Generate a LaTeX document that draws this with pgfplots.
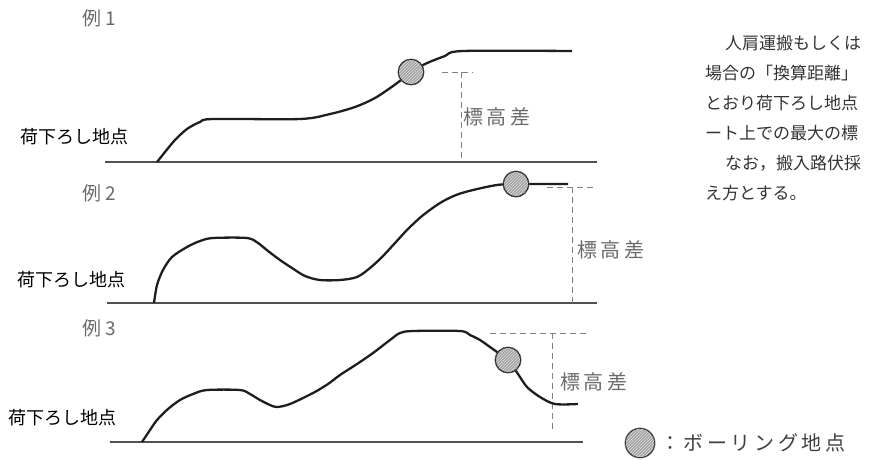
\documentclass[border=0pt]{standalone}
\usepackage{pgfplots}
\pgfplotsset{compat=1.18}
\usepackage{fontspec}
\setmainfont{Noto Sans CJK JP}
\newfontfamily\jp{Noto Sans CJK JP}
\newfontfamily\jpwide[LetterSpace=18]{Noto Sans CJK JP}
\usetikzlibrary{patterns}
\definecolor{txtgray}{HTML}{6A6A6A}
\definecolor{basegray}{HTML}{505050}
\definecolor{curve}{HTML}{1E1E1E}
\begin{document}
\begin{tikzpicture}
\begin{axis}[
  hide axis, scale only axis,
  width=874pt, height=459pt,
  xmin=0, xmax=874, ymin=0, ymax=459, y dir=reverse,
  clip=false,
]
\path (axis cs:0,0) rectangle (axis cs:874,459);
% baselines
\addplot[basegray, line width=1.6pt] coordinates {(105,162) (597,162)};
\addplot[basegray, line width=1.6pt] coordinates {(107,303) (597,303)};
\addplot[basegray, line width=1.6pt] coordinates {(110,442) (583,442)};
% dashed
\addplot[gray, dash pattern=on 6pt off 4pt, line width=0.9pt] coordinates {(461,72) (461,162)};
\addplot[gray, dash pattern=on 6pt off 4pt, line width=0.9pt] coordinates {(442,72) (473,72)};
\addplot[gray, dash pattern=on 6pt off 4pt, line width=0.9pt] coordinates {(572,187) (572,303)};
\addplot[gray, dash pattern=on 6pt off 4pt, line width=0.9pt] coordinates {(547,187) (593,187)};
\addplot[gray, dash pattern=on 6pt off 4pt, line width=0.9pt] coordinates {(552,333) (552,433)};
\addplot[gray, dash pattern=on 6pt off 4pt, line width=0.9pt] coordinates {(490,333) (588,333)};
% curves
\addplot[curve, line width=2.3pt, smooth, tension=0.5] coordinates {
(157,162)(165,152)(175,140)(187,129)(200,122)(213,119)(300,119)(330,114)(355,107)(375,98)(393,86)(405,77)(411,72)(425,64)(445,56)(463,51)(572,51)};
\addplot[curve, line width=2.3pt, smooth, tension=0.5] coordinates {
(154,303)(157,285)(163,270)(172,257)(187,247)(200,241)(213,238)(247,238)(258,243)(268,251)(280,260)(292,268)(305,276)(320,280)(340,280)(357,277)(370,268)(382,257)(395,243)(407,230)(422,216)(440,203)(456,195)(473,190)(497,185)(516,184)(568,184)};
\addplot[curve, line width=2.3pt, smooth, tension=0.5] coordinates {
(142,442)(150,430)(157,420)(168,409)(180,400)(193,394)(207,390)(240,390)(250,394)(260,400)(270,405)(277,407)(290,404)(313,393)(328,384)(340,375)(357,364)(373,353)(390,340)(400,333)(413,331)(460,331)(470,335)(480,340)(490,347)(497,352)(508,360)(518,374)(527,387)(540,397)(555,404)(578,404)};
% boring points
\addplot[only marks, mark=*, mark size=13pt, mark options={fill=gray!72, draw=black!70, line width=0.9pt}] coordinates {(411,72)(516,184)(508,360)};
\addplot[only marks, mark=*, mark size=12.5pt, mark options={draw=none, pattern=north east lines, pattern color=gray!25}] coordinates {(411,72)(516,184)(508,360)};
\addplot[only marks, mark=*, mark size=15pt, mark options={fill=gray!72, draw=black!55, line width=0.9pt}] coordinates {(640,443)};
\addplot[only marks, mark=*, mark size=14.5pt, mark options={draw=none, pattern=north east lines, pattern color=gray!25}] coordinates {(640,443)};
% labels
\node[txtgray, anchor=west, inner sep=0pt, font=\jp\fontsize{19pt}{21pt}\selectfont] at (axis cs:82,18) {例 1};
\node[txtgray, anchor=west, inner sep=0pt, font=\jp\fontsize{19pt}{21pt}\selectfont] at (axis cs:82,193) {例 2};
\node[txtgray, anchor=west, inner sep=0pt, font=\jp\fontsize{19pt}{21pt}\selectfont] at (axis cs:82,328) {例 3};
\node[black, anchor=west, font=\jp\fontsize{18pt}{20pt}\selectfont, inner sep=0pt] at (axis cs:20,137) {荷下ろし地点};
\node[black, anchor=west, font=\jp\fontsize{18pt}{20pt}\selectfont, inner sep=0pt] at (axis cs:17,280) {荷下ろし地点};
\node[black, anchor=west, font=\jp\fontsize{18pt}{20pt}\selectfont, inner sep=0pt] at (axis cs:8,418) {荷下ろし地点};
\node[txtgray, anchor=west, font=\jpwide\fontsize{20pt}{22pt}\selectfont, inner sep=0pt] at (axis cs:463,117) {標高差};
\node[txtgray, anchor=west, font=\jpwide\fontsize{20pt}{22pt}\selectfont, inner sep=0pt] at (axis cs:577,250) {標高差};
\node[txtgray, anchor=west, font=\jpwide\fontsize{20pt}{22pt}\selectfont, inner sep=0pt] at (axis cs:560,382) {標高差};
\node[black!75, anchor=west, font=\jpwide\fontsize{20pt}{22pt}\selectfont, inner sep=0pt] at (axis cs:660,443) {：ボーリング地点};
% right text
\begin{scope}[every node/.style={anchor=west, inner sep=0pt, text=black!80, font=\jp\fontsize{17pt}{19pt}\selectfont}]
\node at (axis cs:725,43) {人肩運搬もしくは};
\node at (axis cs:705,73) {場合の「換算距離」};
\node at (axis cs:705,103) {とおり荷下ろし地点};
\node at (axis cs:705,133) {ート上での最大の標};
\node at (axis cs:725,163) {なお，搬入路伏採};
\node at (axis cs:705,193) {え方とする。};
\end{scope}
\end{axis}
\end{tikzpicture}
\end{document}
